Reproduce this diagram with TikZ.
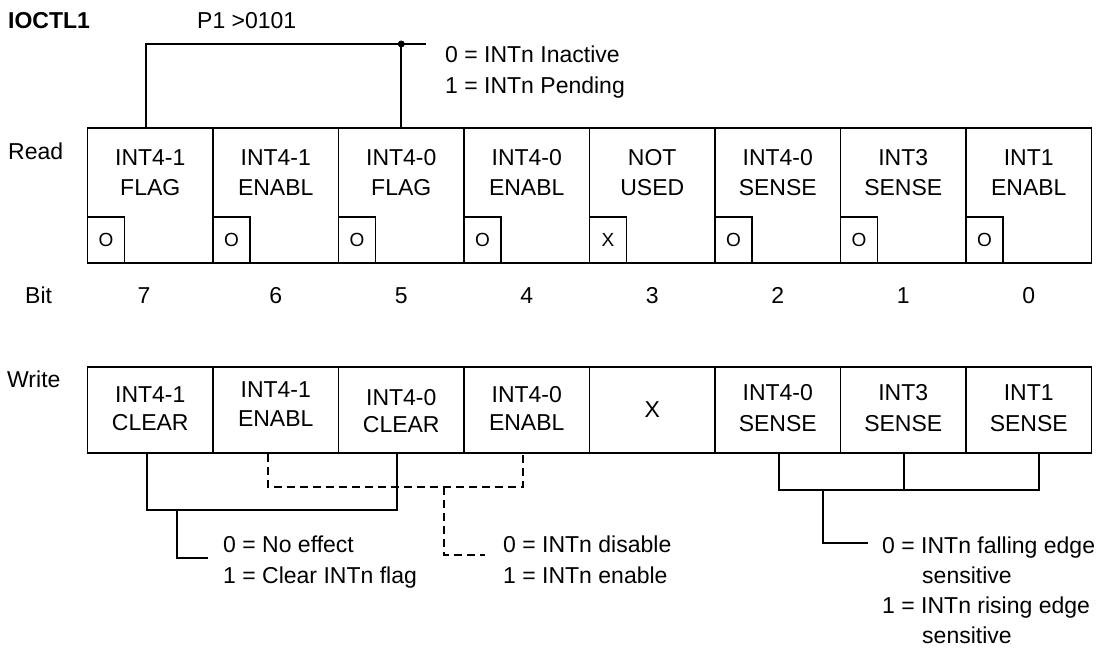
\documentclass[tikz,border=0pt]{standalone}
\usepackage{fontspec}
\setmainfont{Liberation Sans}
\begin{document}
\begin{tikzpicture}[x=1pt,y=-1pt,
  every node/.style={font=\fontsize{23}{30}\selectfont, inner sep=0pt},
  cell/.style={draw, line width=1.8pt, minimum width=125.5pt, inner sep=0pt},
  sq/.style={draw, line width=1.6pt, minimum width=37pt, minimum height=46pt, font=\fontsize{19}{22}\selectfont, anchor=south west},
  txt/.style={anchor=base},
  lg/.style={anchor=base west},
  conn/.style={line width=1.8pt},
  dconn/.style={line width=1.6pt, dash pattern=on 8pt off 5pt}]
\useasboundingbox (0,0) rectangle (1102,654);
% headings
\node[lg, font=\fontsize{23}{30}\selectfont\bfseries] (title) at (8,28) {IOCTL1};
\node[lg] (addr) at (197,28) {P1 >0101};
\node[lg] (readlbl) at (8,159) {Read};
\node[lg] (bitlbl) at (25,303) {Bit};
\node[lg] (writelbl) at (7,387) {Write};
% read register
\foreach \n/\x/\a/\b/\bx in {7/150.25/INT4-1/FLAG/144, 6/275.75/INT4-1/ENABL/275.75, 5/401.25/INT4-0/FLAG/401.25, 4/526.75/INT4-0/ENABL/526.75, 3/652.25/NOT/USED/652.25, 2/777.75/INT4-0/SENSE/777.75, 1/903.25/INT3/SENSE/903.25, 0/1028.75/INT1/ENABL/1028.75}{
  \node[cell, minimum height=135pt] (r\n) at (\x,195.5) {};
  \node[txt] (ra\n) at (\x,165) {\a};
  \node[txt] (rb\n) at (\x,195) {\b};
  \node[txt] (bit\n) at (\bx,303) {\n};
}
\foreach \n/\m in {7/O,6/O,5/O,4/O,3/X,2/O,1/O,0/O}{
  \node[sq] (rs\n) at (r\n.south west) {\m};
}
% write register
\foreach \n/\x/\a/\b/\ya/\yb in {7/150.25/INT4-1/CLEAR/402/430, 6/275.75/INT4-1/ENABL/397/426, 5/401.25/INT4-0/CLEAR/405/432, 4/526.75/INT4-0/ENABL/402/430, 2/777.75/INT4-0/SENSE/400/431, 1/903.25/INT3/SENSE/400/431, 0/1028.75/INT1/SENSE/400/431}{
  \node[cell, minimum height=86pt] (w\n) at (\x,410) {};
  \node[txt] (wa\n) at (\x,\ya) {\a};
  \node[txt] (wb\n) at (\x,\yb) {\b};
}
\node[cell, minimum height=86pt] (w3) at (652.25,410) {X};
% top connector
\coordinate (tend) at (426,44);
\draw[conn] ([xshift=-4.25pt]r7.north) |- (tend);
\draw[conn] (r5.north) -- (r5.north |- tend);
\fill (r5.north |- tend) circle (3.5pt);
\node[lg] (top0) at (445,62) {0 = INTn Inactive};
\node[lg] (top1) at (445,93) {1 = INTn Pending};
% clear bracket
\coordinate (cb) at (177,510);
\coordinate (ce) at (208,558);
\draw[conn] ([xshift=-3.25pt]w7.south) |- ([xshift=-4.25pt]w5.south |- cb) -- ([xshift=-4.25pt]w5.south);
\draw[conn] (cb) |- (ce);
\node[lg] (clr0) at (223,552) {0 = No effect};
\node[lg] (clr1) at (223,583) {1 = Clear INTn flag};
% enable bracket
\coordinate (eb) at (444,487);
\coordinate (ee) at (485,555);
\draw[dconn] ([xshift=-7.75pt]w6.south) |- ([xshift=-3.75pt]w4.south |- eb) -- ([xshift=-3.75pt]w4.south);
\draw[dconn] (eb) |- (ee);
\node[lg] (en0) at (503,552) {0 = INTn disable};
\node[lg] (en1) at (503,583) {1 = INTn enable};
% sense bracket
\coordinate (sb) at (823,490);
\coordinate (se) at (868,543);
\draw[conn] ([xshift=1.25pt]w2.south) |- ([xshift=10.25pt]w0.south |- sb) -- ([xshift=10.25pt]w0.south);
\draw[conn] ([xshift=0.75pt]w1.south) -- ([xshift=0.75pt]w1.south |- sb);
\draw[conn] (sb) |- (se);
\node[lg] (sn0) at (882,553) {0 = INTn falling edge};
\node[lg] (sn0b) at (922,583) {sensitive};
\node[lg] (sn1) at (882,613) {1 = INTn rising edge};
\node[lg] (sn1b) at (922,643) {sensitive};
\end{tikzpicture}
\end{document}
